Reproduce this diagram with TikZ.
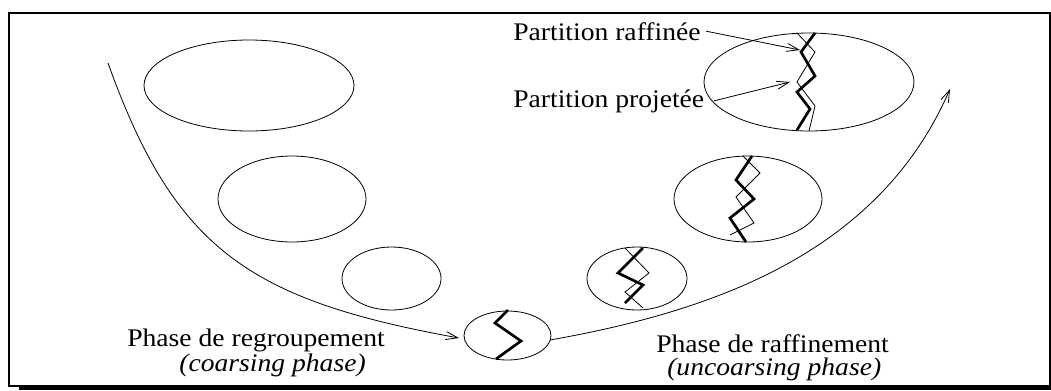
\documentclass[tikz,border=0pt]{standalone}
\usepackage{fontspec}
\setmainfont{Liberation Serif}[FakeStretch=1.09]
\usetikzlibrary{arrows.meta,shapes.geometric}
\begin{document}
\begin{tikzpicture}[x=0.75pt,y=-0.75pt,
  ell/.style 2 args={ellipse,draw,line width=0.6pt,minimum width=#1*0.75pt,minimum height=#2*0.75pt,inner sep=0pt,outer sep=0pt},
  lbl/.style={inner sep=0pt,anchor=base west,font=\fontsize{19}{23}\selectfont},
  conn/.style={line width=0.6pt,-{Straight Barb[length=9pt,width=6pt,line width=0.6pt]}},
  cut/.style={line width=2pt,line join=miter},
  cutthin/.style={line width=0.6pt}]
\useasboundingbox (0,0) rectangle (1051,390);
% frame
\fill[black] (19,386) rectangle (1051,390);
\draw[line width=1.5pt] (9,13) rectangle (1050,386);
% ellipses
\node[ell={210}{91}] (E1) at (249,85.5) {};
\node[ell={148}{86}] (E2) at (292,199) {};
\node[ell={99}{63}]  (E3) at (391.5,278.5) {};
\node[ell={87}{49}]  (E4) at (507.5,335.5) {};
\node[ell={100}{63}] (E5) at (637,278.5) {};
\node[ell={148}{86}] (E6) at (748,199) {};
\node[ell={210}{98}] (E7) at (809,82) {};
% zigzags
\draw[cut] (508,310) -- (495,323) -- (521,341) -- (496,359);
\draw[cut] (643,248) -- (618,273) -- (643,285) -- (625,303);
\draw[cutthin] (625,248) -- (649,273) -- (625,292) -- (643,308);
\draw[cut] (752,156) -- (736,180) -- (754,199) -- (730,218) -- (746,242);
\draw[cutthin] (743,156) -- (760,173) -- (736,197) -- (754,223) -- (730,235);
\draw[cut] (815,33) -- (801,52) -- (815,76) -- (797,92) -- (810,109) -- (797,130);
\draw[cutthin] (797,33) -- (815,52) -- (797,82) -- (815,106) -- (809,131);
% phase curves
\coordinate (startL) at (108,63);
\coordinate (endR) at (950,89);
\draw[conn] (startL) .. controls (175,250) and (250,300) .. ([shift={(-5,2.5)}]E4.west);
\draw[conn] ([shift={(-1,4.5)}]E4.east) .. controls (720,310) and (880,250) .. (endR);
% labels
\node[lbl] (praf) at (513,40) {Partition raffinée};
\node[lbl] (pproj) at (513,107) {Partition projetée};
\coordinate (tipraf) at (800,50);
\coordinate (tipproj) at (790,82);
\draw[conn] ([xshift=4pt]praf.east) -- (tipraf);
\draw[conn] ([xshift=7pt]pproj.east) -- (tipproj);
\node[lbl] (pregr) at (127,346) {Phase de regroupement};
\node[lbl,anchor=base east] (coars) at (366,371) {\itshape (coarsing phase)};
\node[lbl] (praff) at (656,352) {Phase de raffinement};
\node[lbl] (uncoars) at (667,375) {\itshape (uncoarsing phase)};
\end{tikzpicture}
\end{document}
